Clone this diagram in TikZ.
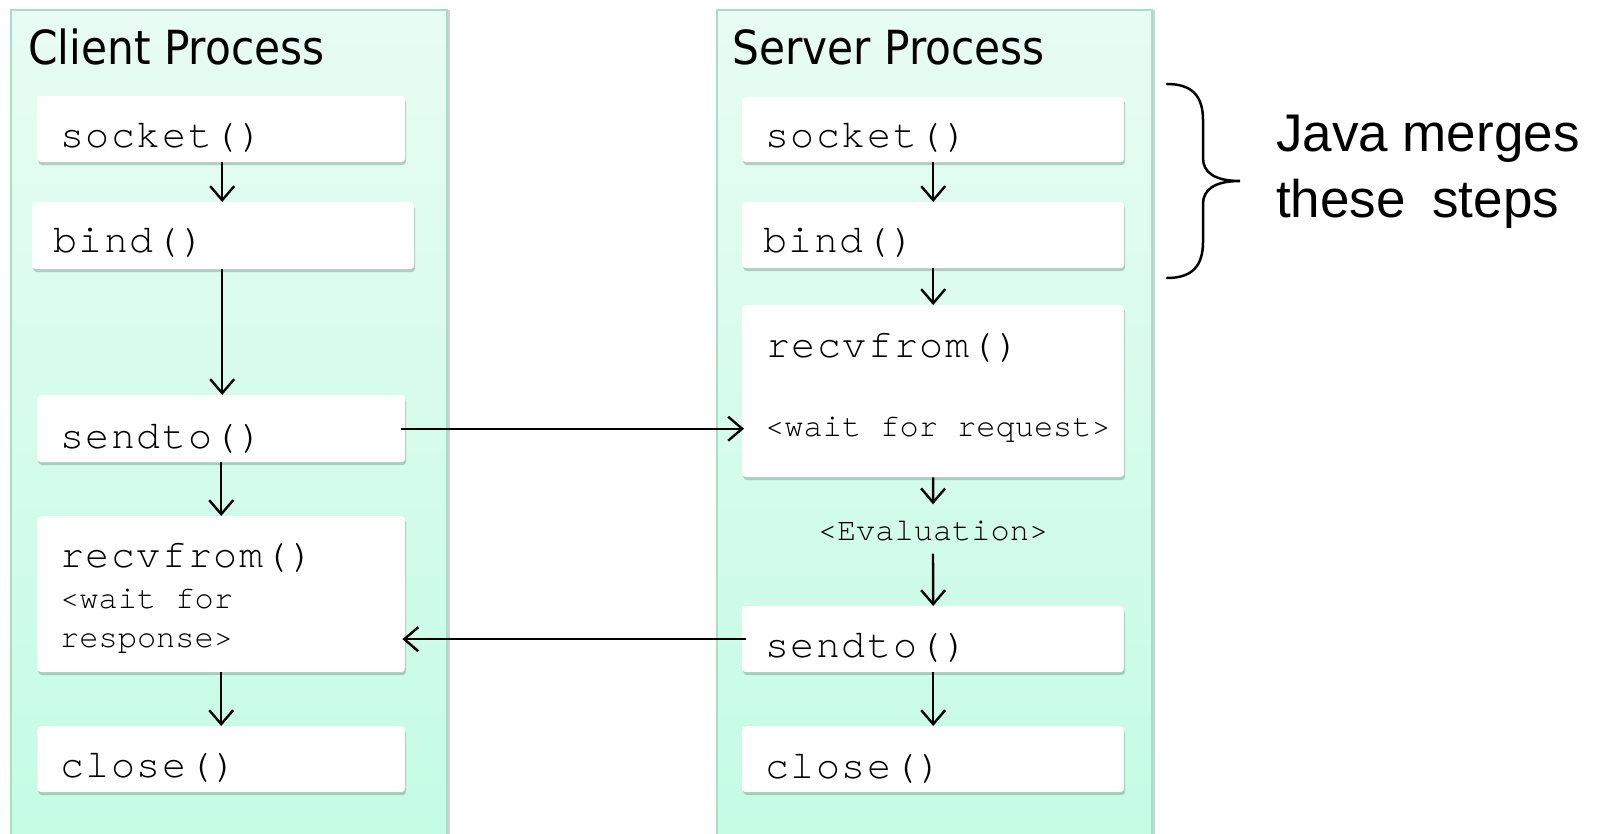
\documentclass[tikz,border=0pt]{standalone}
\usepackage{fontspec}
\setmainfont{Liberation Sans}
\newfontfamily\titlefont{DejaVu Sans}[FakeStretch=0.9]
\newfontfamily\codefont{texgyrecursor-regular.otf}
\newfontfamily\bigcodefont{texgyrecursor-regular.otf}[LetterSpace=4]
\usetikzlibrary{arrows.meta,shadows}
\definecolor{panelborder}{RGB}{166,222,202}
\definecolor{paneltop}{RGB}{232,252,244}
\definecolor{panelbot}{RGB}{196,252,228}
\definecolor{shadowcol}{RGB}{90,120,110}
\newcommand{\bigcode}{\bigcodefont\fontsize{40}{44}\selectfont}
\newcommand{\smallcode}{\codefont\fontsize{32}{38}\selectfont}
\begin{document}
\begin{tikzpicture}[x=1pt,y=-1pt,
  panel/.style={draw=panelborder, line width=2pt, top color=paneltop, bottom color=panelbot,
    anchor=north west, inner sep=0pt,
    drop shadow={shadow xshift=3pt, shadow yshift=0pt, opacity=0.18, fill=black}},
  stepbox/.style={fill=white, rounded corners=4pt, inner sep=0pt, anchor=north west,
    drop shadow={shadow xshift=1pt, shadow yshift=-3pt, opacity=0.35, fill=shadowcol}},
  lbl/.style={anchor=base west, inner sep=0pt},
  arr/.style={line width=2.4pt, -{Straight Barb[length=14pt,width=24pt,line width=2.4pt]}},
]
\useasboundingbox (0,0) rectangle (1597,834);
\fill[white] (0,0) rectangle (1597,834);

% panels
\node[panel, minimum width=436pt, minimum height=830pt] (cpanel) at (10,9) {};
\node[panel, minimum width=435pt, minimum height=830pt] (spanel) at (716,9) {};

\node[lbl, font=\titlefont\fontsize{47}{50}\selectfont] (ctitle) at (28,65) {Client Process};
\node[lbl, font=\titlefont\fontsize{47}{50}\selectfont] (stitle) at (732,65) {Server Process};

% client boxes
\node[stepbox, minimum width=368pt, minimum height=66pt] (csock) at (37,96) {};
\node[stepbox, minimum width=382pt, minimum height=67pt] (cbind) at (32,202) {};
\node[stepbox, minimum width=368pt, minimum height=67pt] (csend) at (37,395) {};
\node[stepbox, minimum width=368pt, minimum height=156pt] (crecv) at (37,516) {};
\node[stepbox, minimum width=368pt, minimum height=66pt] (cclose) at (37,726) {};

% server boxes
\node[stepbox, minimum width=382pt, minimum height=65pt] (ssock) at (742,97) {};
\node[stepbox, minimum width=382pt, minimum height=66pt] (sbind) at (742,202) {};
\node[stepbox, minimum width=382pt, minimum height=172pt] (srecv) at (742,305) {};
\node[stepbox, minimum width=382pt, minimum height=66pt] (ssend) at (742,606) {};
\node[stepbox, minimum width=382pt, minimum height=66pt] (sclose) at (742,726) {};

% client texts
\node[lbl, font=\bigcode] (tcsock) at (60,148) {socket()};
\node[lbl, font=\bigcode] (tcbind) at (53,252) {bind()};
\node[lbl, font=\bigcode] (tcsend) at (60,448) {sendto()};
\node[lbl, font=\bigcode] (tcrecv) at (60,567) {recvfrom()};
\node[lbl, font=\smallcode] (tcwait1) at (60,608) {<wait for};
\node[lbl, font=\smallcode] (tcwait2) at (60,647) {response>};
\node[lbl, font=\bigcode] (tcclose) at (60,777) {close()};

% server texts
\node[lbl, font=\bigcode] (tssock) at (765,148) {socket()};
\node[lbl, font=\bigcode] (tsbind) at (763,253) {bind()};
\node[lbl, font=\bigcode] (tsrecv) at (766,357) {recvfrom()};
\node[lbl, font=\smallcode] (tswait) at (765,436) {<wait for request>};
\node[anchor=base, inner sep=0pt, font=\smallcode] (eval) at (933,540) {<Evaluation>};
\node[lbl, font=\bigcode] (tssend) at (765,657) {sendto()};
\node[lbl, font=\bigcode] (tsclose) at (765,778) {close()};

% client arrows
\draw[arr] ([xshift=1pt]csock.south) -- ([xshift=1pt]csock.south |- cbind.north);
\draw[arr] ([xshift=1pt]csock.south |- cbind.south) -- ([xshift=1pt]csock.south |- csend.north);
\draw[arr] (csend.south) -- (crecv.north);
\draw[arr] (crecv.south) -- (cclose.north);

% server arrows
\draw[arr] (ssock.south) -- (sbind.north);
\draw[arr] (sbind.south) -- (srecv.north);
\draw[arr] (srecv.south) -- ([yshift=16pt]eval.north);
\draw[arr] ([yshift=-13pt]eval.south) -- (ssend.north);
\draw[arr] (ssend.south) -- (sclose.north);

% cross arrows
\draw[arr] ([xshift=-4pt]csend.east) -- ([xshift=2pt]srecv.west |- csend.east);
\draw[arr] ([xshift=4pt]ssend.west) -- ([xshift=-3pt]crecv.east |- ssend.west);

% brace
\draw[line width=2.5pt, line cap=round] (1167,84) .. controls (1192,84) and (1203,96) .. (1203,120)
  -- (1203,158) .. controls (1203,172) and (1214,181) .. (1240,181)
  .. controls (1214,181) and (1203,190) .. (1203,204)
  -- (1203,242) .. controls (1203,266) and (1192,278) .. (1167,278);

\node[lbl, font=\fontsize{53}{60}\selectfont] (java1) at (1276,152) {Java merges};
\node[lbl, font=\fontsize{53}{60}\selectfont] (java2) at (1276,218) {these\hspace{0.5em}steps};
\end{tikzpicture}
\end{document}
